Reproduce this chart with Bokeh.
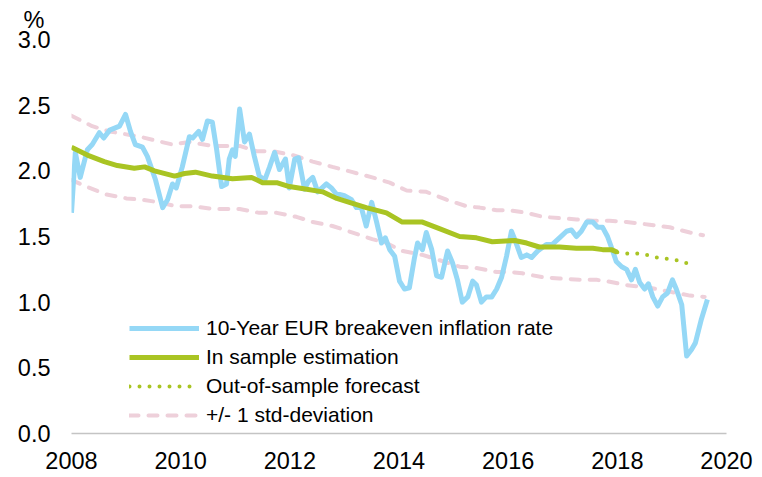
from bokeh.plotting import figure
from bokeh.models import Range1d, FixedTicker, NumeralTickFormatter, Legend, LegendItem
from bokeh.embed import file_html
from bokeh.resources import INLINE

# 10-Year EUR breakeven inflation rate (%)
be_x = [2008.00, 2008.07, 2008.16, 2008.29, 2008.38, 2008.51, 2008.59, 2008.70, 2008.88, 2008.99,
        2009.08, 2009.17, 2009.30, 2009.39, 2009.54, 2009.67, 2009.76, 2009.85, 2009.92, 2010.03,
        2010.16, 2010.22, 2010.33, 2010.40, 2010.49, 2010.58, 2010.66, 2010.75, 2010.84, 2010.89,
        2010.95, 2011.00, 2011.08, 2011.17, 2011.26, 2011.35, 2011.44, 2011.54, 2011.63, 2011.72,
        2011.81, 2011.92, 2011.99, 2012.09, 2012.16, 2012.27, 2012.34, 2012.42, 2012.51, 2012.67,
        2012.76, 2012.86, 2012.91, 2013.00, 2013.13, 2013.22, 2013.31, 2013.40, 2013.50, 2013.59,
        2013.68, 2013.75, 2013.83, 2013.92, 2014.01, 2014.10, 2014.19, 2014.28, 2014.34, 2014.43,
        2014.50, 2014.60, 2014.69, 2014.78, 2014.89, 2014.98, 2015.07, 2015.16, 2015.26, 2015.35,
        2015.42, 2015.51, 2015.60, 2015.70, 2015.79, 2015.88, 2015.97, 2016.06, 2016.12, 2016.24,
        2016.34, 2016.43, 2016.54, 2016.70, 2016.81, 2016.94, 2017.07, 2017.16, 2017.25, 2017.34,
        2017.44, 2017.55, 2017.64, 2017.73, 2017.82, 2017.89, 2017.98, 2018.08, 2018.17, 2018.26,
        2018.33, 2018.41, 2018.50, 2018.57, 2018.65, 2018.74, 2018.83, 2018.92, 2019.01, 2019.08,
        2019.18, 2019.27, 2019.36, 2019.43, 2019.54, 2019.65]
be_y = [1.68, 2.14, 1.95, 2.16, 2.20, 2.29, 2.25, 2.31, 2.34, 2.43,
        2.30, 2.20, 2.18, 2.11, 1.93, 1.72, 1.78, 1.90, 1.87, 2.03,
        2.26, 2.25, 2.30, 2.24, 2.38, 2.37, 2.16, 1.88, 1.90, 2.09,
        2.16, 2.11, 2.47, 2.22, 2.28, 2.11, 1.96, 1.93, 2.03, 2.14,
        2.01, 2.09, 1.87, 2.09, 2.10, 1.86, 1.92, 1.95, 1.84, 1.90,
        1.87, 1.82, 1.82, 1.81, 1.78, 1.72, 1.72, 1.58, 1.76, 1.61,
        1.45, 1.49, 1.40, 1.35, 1.16, 1.10, 1.11, 1.33, 1.45, 1.40,
        1.53, 1.40, 1.20, 1.19, 1.39, 1.30, 1.17, 1.00, 1.04, 1.16,
        1.13, 1.00, 1.04, 1.04, 1.10, 1.19, 1.35, 1.54, 1.48, 1.34,
        1.36, 1.34, 1.39, 1.44, 1.44, 1.49, 1.54, 1.55, 1.50, 1.54,
        1.61, 1.61, 1.57, 1.57, 1.50, 1.42, 1.31, 1.27, 1.25, 1.17,
        1.25, 1.15, 1.10, 1.14, 1.04, 0.97, 1.04, 1.07, 1.17, 1.10,
        0.98, 0.59, 0.64, 0.69, 0.87, 1.02]

# In sample estimation
fit_x = [2008.00, 2008.29, 2008.60, 2008.84, 2009.15, 2009.34, 2009.52, 2009.89, 2010.07, 2010.27,
         2010.58, 2010.95, 2011.30, 2011.50, 2011.76, 2011.99, 2012.31, 2012.60, 2012.86, 2013.09,
         2013.40, 2013.77, 2014.06, 2014.43, 2014.74, 2015.11, 2015.42, 2015.71, 2016.12, 2016.34,
         2016.57, 2016.94, 2017.25, 2017.55, 2017.73, 2017.89, 2018.00]
fit_y = [2.18, 2.12, 2.07, 2.04, 2.02, 2.03, 2.00, 1.96, 1.98, 1.99,
         1.96, 1.94, 1.95, 1.91, 1.91, 1.88, 1.86, 1.84, 1.79, 1.76,
         1.72, 1.68, 1.61, 1.61, 1.56, 1.50, 1.49, 1.46, 1.47, 1.45,
         1.42, 1.42, 1.41, 1.41, 1.40, 1.40, 1.38]

# Out-of-sample forecast
fc_x = [2018.00, 2018.19, 2018.37, 2018.53, 2018.72, 2018.90, 2019.08, 2019.25, 2019.41]
fc_y = [1.38, 1.37, 1.37, 1.36, 1.34, 1.33, 1.32, 1.30, 1.27]

# +/- 1 std-deviation bands
up_x = [2008.00, 2008.38, 2008.70, 2009.25, 2009.85, 2010.16, 2010.58, 2011.08, 2011.39, 2011.68,
        2012.05, 2012.42, 2012.78, 2013.15, 2013.51, 2013.83, 2014.14, 2014.50, 2014.87, 2015.24,
        2015.48, 2015.79, 2016.02, 2016.34, 2016.63, 2016.94, 2017.25, 2017.55, 2017.86, 2018.17,
        2018.59, 2018.96, 2019.33, 2019.57]
up_y = [2.42, 2.34, 2.30, 2.26, 2.20, 2.22, 2.19, 2.19, 2.15, 2.15,
        2.12, 2.07, 2.03, 1.99, 1.95, 1.91, 1.85, 1.84, 1.78, 1.73,
        1.72, 1.70, 1.70, 1.68, 1.65, 1.64, 1.63, 1.62, 1.62, 1.61,
        1.59, 1.57, 1.53, 1.51]
lo_x = [2008.00, 2008.27, 2008.64, 2009.01, 2009.30, 2009.61, 2009.92, 2010.22, 2010.58, 2011.08,
        2011.44, 2011.76, 2012.12, 2012.42, 2012.78, 2013.15, 2013.51, 2013.77, 2014.06, 2014.43,
        2014.74, 2015.11, 2015.42, 2015.79, 2016.02, 2016.26, 2016.63, 2016.94, 2017.31, 2017.62,
        2017.80, 2018.17, 2018.59, 2018.96, 2019.33, 2019.60]
lo_y = [1.93, 1.88, 1.82, 1.79, 1.78, 1.76, 1.73, 1.73, 1.71, 1.71,
        1.68, 1.68, 1.65, 1.61, 1.58, 1.53, 1.48, 1.45, 1.39, 1.36,
        1.32, 1.27, 1.26, 1.23, 1.23, 1.22, 1.19, 1.18, 1.17, 1.17,
        1.16, 1.13, 1.11, 1.08, 1.05, 1.04]

x_ticks = [2008, 2010, 2012, 2014, 2016, 2018, 2020]
y_ticks = [0.0, 0.5, 1.0, 1.5, 2.0, 2.5, 3.0]
unit_label = "%"

FONT = "Liberation Sans"
TICK_SIZE = "23.5px"
BLUE = "#95D8F6"
GREEN = "#A9C423"
PINK = "#EED0DA"

p = figure(width=753, height=476, output_backend="svg", toolbar_location=None,
           x_range=Range1d(2008, 2020), y_range=Range1d(0, 3.0),
           min_border_left=71, min_border_right=27, min_border_top=39, min_border_bottom=43,
           title=unit_label)
p.outline_line_color = None
p.grid.visible = False
p.background_fill_color = "white"

p.title.align = "left"
p.title.vertical_align = "top"
p.title.offset = -48
p.title.standoff = 9
p.title.text_font = FONT
p.title.text_font_size = TICK_SIZE
p.title.text_font_style = "normal"
p.title.text_color = "black"

r_up = p.line(up_x, up_y, line_color=PINK, line_width=4, line_dash="9 10", line_cap="round")
r_lo = p.line(lo_x, lo_y, line_color=PINK, line_width=4, line_dash="9 10", line_cap="round")
r_be = p.line(be_x, be_y, line_color=BLUE, line_width=5, line_join="round")
r_fit = p.line(fit_x, fit_y, line_color=GREEN, line_width=5, line_join="round")
r_fc = p.line(fc_x, fc_y, line_color=GREEN, line_width=4, line_dash="0 10", line_cap="round")

for ax in (p.xaxis[0], p.yaxis[0]):
    ax.major_tick_line_color = None
    ax.minor_tick_line_color = None
    ax.major_tick_out = 0
    ax.major_tick_in = 0
    ax.major_label_text_font = FONT
    ax.major_label_text_font_size = TICK_SIZE
    ax.major_label_text_color = "black"

p.xaxis.ticker = FixedTicker(ticks=x_ticks)
p.xaxis.formatter = NumeralTickFormatter(format="0")
p.xaxis.axis_line_color = "#C4C4C4"
p.xaxis.axis_line_width = 1.5
p.xaxis.major_label_standoff = 18

p.yaxis.ticker = FixedTicker(ticks=y_ticks)
p.yaxis.formatter = NumeralTickFormatter(format="0.0")
p.yaxis.axis_line_color = None
p.yaxis.major_label_standoff = 21

legend = Legend(items=[
    LegendItem(label="10-Year EUR breakeven inflation rate", renderers=[r_be]),
    LegendItem(label="In sample estimation", renderers=[r_fit]),
    LegendItem(label="Out-of-sample forecast", renderers=[r_fc]),
    LegendItem(label="+/- 1 std-deviation", renderers=[r_up]),
], location=(58, 5))
legend.glyph_width = 70
legend.glyph_height = 20
legend.label_height = 26
legend.spacing = 3
legend.padding = 0
legend.margin = 0
legend.label_standoff = 7
legend.label_text_font = FONT
legend.label_text_font_size = "21px"
legend.label_text_color = "black"
legend.border_line_color = None
legend.background_fill_alpha = 0
p.add_layout(legend)

open("out.html", "w").write(file_html(p, INLINE))
